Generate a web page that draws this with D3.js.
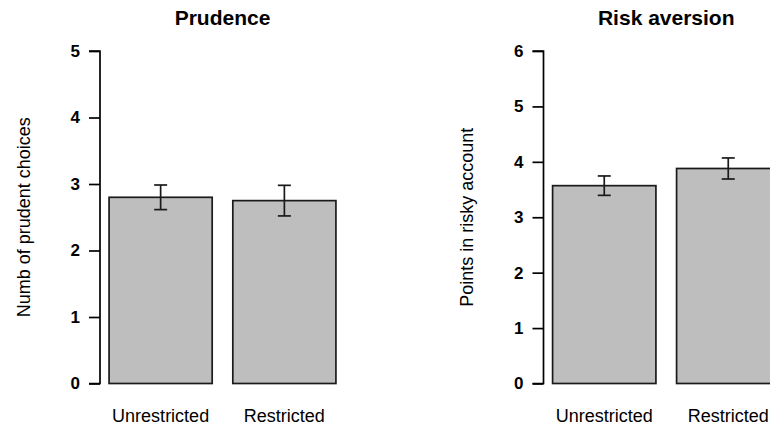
<!DOCTYPE html>
<html>
<head>
<meta charset="utf-8">
<script src="https://cdn.jsdelivr.net/npm/d3@7"></script>
<style>
  html, body { margin: 0; padding: 0; background: #ffffff; }
  svg { display: block; }
  text { font-family: "Liberation Sans", Arial, sans-serif; fill: #000; }
</style>
</head>
<body>
<svg id="chart" width="770" height="428"></svg>
<script>
// ---- data ----
const categories = ["Unrestricted", "Restricted"];
const panelTitles = ["Prudence", "Risk aversion"];
const yLabels = ["Numb of prudent choices", "Points in risky account"];
const prudenceMeans = [2.80, 2.75];
const prudenceErrors = [0.185, 0.23];
const riskMeans = [3.57, 3.88];
const riskErrors = [0.175, 0.19];
const prudenceTicks = [0, 1, 2, 3, 4, 5];
const riskTicks = [0, 1, 2, 3, 4, 5, 6];

const panels = [
  { title: panelTitles[0], ylab: yLabels[0], means: prudenceMeans, errs: prudenceErrors, ticks: prudenceTicks, yMax: 5, left: 100, right: 345, ylabX: 24 },
  { title: panelTitles[1], ylab: yLabels[1], means: riskMeans, errs: riskErrors, ticks: riskTicks, yMax: 6, left: 543.5, right: 789, ylabX: 467 }
];

const svg = d3.select("#chart");
const yTop = 51, yBottom = 383.5;

panels.forEach(p => {
  const g = svg.append("g");
  // R barplot: width 1, space 0.2 → bars span [0.2, 2.4], 4% expansion
  const x = d3.scaleLinear().domain([0.2 - 0.088, 2.4 + 0.088]).range([p.left, p.right]);
  const y = d3.scaleLinear().domain([0, p.yMax]).range([yBottom, yTop]);
  const data = categories.map((c, i) => ({ c, m: p.means[i], e: p.errs[i], x0: 0.2 + i * 1.2, x1: 1.2 + i * 1.2 }));

  // bars
  g.selectAll("rect.bar").data(data).enter().append("rect")
    .attr("x", d => x(d.x0))
    .attr("width", d => x(d.x1) - x(d.x0))
    .attr("y", d => y(d.m))
    .attr("height", d => y(0) - y(d.m))
    .attr("fill", "#bebebe")
    .attr("stroke", "#1a1a1a")
    .attr("stroke-width", 1.7);

  // error bars
  const eb = g.selectAll("g.eb").data(data).enter().append("g")
    .attr("stroke", "#1a1a1a").attr("stroke-width", 1.7);
  eb.append("line")
    .attr("x1", d => x((d.x0 + d.x1) / 2)).attr("x2", d => x((d.x0 + d.x1) / 2))
    .attr("y1", d => y(d.m + d.e)).attr("y2", d => y(d.m - d.e));
  eb.append("line")
    .attr("x1", d => x((d.x0 + d.x1) / 2) - 6.5).attr("x2", d => x((d.x0 + d.x1) / 2) + 6.5)
    .attr("y1", d => y(d.m + d.e)).attr("y2", d => y(d.m + d.e));
  eb.append("line")
    .attr("x1", d => x((d.x0 + d.x1) / 2) - 6.5).attr("x2", d => x((d.x0 + d.x1) / 2) + 6.5)
    .attr("y1", d => y(d.m - d.e)).attr("y2", d => y(d.m - d.e));

  // y axis
  const axis = d3.axisLeft(y).tickValues(p.ticks).tickSize(11).tickPadding(9).tickFormat(d3.format("d"));
  const ag = g.append("g").attr("transform", `translate(${p.left},0)`).call(axis);
  ag.select(".domain").attr("d", `M${-11},${y(p.yMax)}H0V${y(0)}H${-11}`).attr("stroke", "#000").attr("stroke-width", 1.7).attr("fill", "none");
  ag.selectAll(".tick line").attr("stroke", "#000").attr("stroke-width", 1.7);
  ag.selectAll(".tick text")
    .attr("font-family", "Liberation Sans, Arial, sans-serif")
    .attr("font-size", 17).attr("font-weight", "bold").attr("fill", "#000");

  // category labels
  g.selectAll("text.cat").data(data).enter().append("text")
    .attr("x", d => x((d.x0 + d.x1) / 2))
    .attr("y", 422)
    .attr("text-anchor", "middle")
    .attr("font-size", 18)
    .text(d => d.c);

  // title
  g.append("text")
    .attr("x", (p.left + p.right) / 2)
    .attr("y", 25)
    .attr("text-anchor", "middle")
    .attr("font-size", 21)
    .attr("font-weight", "bold")
    .text(p.title);

  // y label
  g.append("text")
    .attr("transform", `translate(${p.ylabX},${(yTop + yBottom) / 2}) rotate(-90)`)
    .attr("text-anchor", "middle")
    .attr("dominant-baseline", "central")
    .attr("font-size", 18)
    .text(p.ylab);
});
</script>
</body>
</html>
